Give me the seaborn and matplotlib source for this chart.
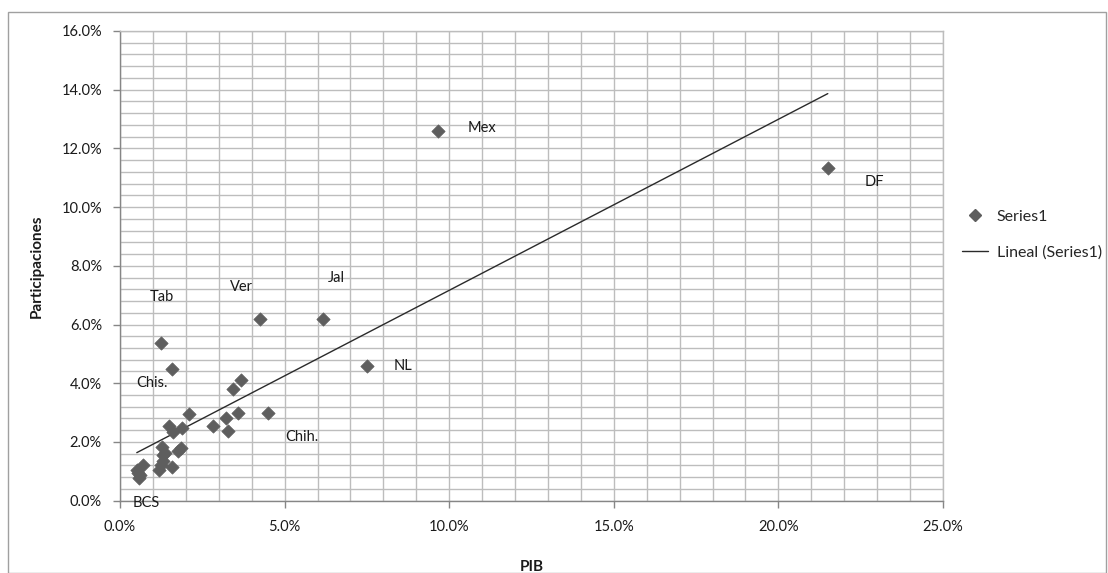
import numpy as np
import pandas as pd
import matplotlib
matplotlib.use("Agg")
import matplotlib.pyplot as plt
from matplotlib.ticker import MultipleLocator, FuncFormatter
from matplotlib.lines import Line2D
import seaborn as sns

# ---- data (percent) ----
pib = [9.67, 21.50, 6.18, 7.49, 4.25, 1.25, 1.59, 3.67, 3.42, 4.51, 3.59, 3.21,
       2.84, 3.27, 2.10, 1.50, 1.60, 1.87, 1.85, 1.77, 1.27, 1.32, 1.30, 1.19,
       1.57, 0.71, 0.51, 0.59, 0.62, 1.36, 1.24, 0.55]
participaciones = [12.60, 11.34, 6.19, 4.59, 6.19, 5.36, 4.48, 4.11, 3.80, 2.97,
                   2.97, 2.82, 2.55, 2.37, 2.94, 2.54, 2.33, 2.46, 1.78, 1.69,
                   1.84, 1.55, 1.35, 1.04, 1.13, 1.21, 1.04, 0.76, 0.88, 1.62,
                   1.22, 0.95]
label_text = ["Mex", "DF", "Jal", "NL", "Ver", "Tab", "Chis.", "Chih.", "BCS"]
label_x = [10.99, 22.93, 6.58, 8.61, 3.70, 1.27, 0.96, 5.52, 0.81]
label_y = [12.68, 10.85, 7.57, 4.58, 7.27, 6.95, 4.00, 2.18, -0.07]

x_ticks = [0, 5, 10, 15, 20, 25]
y_ticks = [0, 2, 4, 6, 8, 10, 12, 14, 16]

df = pd.DataFrame({"PIB": pib, "Participaciones": participaciones})

sns.set_theme(style="white")
plt.rcParams["font.family"] = ["Lato", "DejaVu Sans"]

W, H = 1108, 573
fig = plt.figure(figsize=(W / 100, H / 100), dpi=100)
ax = fig.add_axes([120 / W, 1 - 500.6 / H, (943 - 120) / W, (500.6 - 31) / H])

grid_c = "#bdbdbd"
sns.scatterplot(data=df, x="PIB", y="Participaciones", ax=ax, marker="D",
                s=46, color="#5e5e5e", edgecolor="#5e5e5e", linewidth=0.5,
                zorder=3, legend=False)
sns.regplot(data=df, x="PIB", y="Participaciones", ax=ax, scatter=False,
            ci=None, truncate=True, color="#2a2a2a",
            line_kws={"linewidth": 1.0, "zorder": 2})

ax.set_xlim(x_ticks[0], x_ticks[-1])
ax.set_ylim(y_ticks[0], y_ticks[-1])
ax.set_xticks(x_ticks)
ax.set_yticks(y_ticks)
ax.xaxis.set_minor_locator(MultipleLocator(1))
ax.yaxis.set_minor_locator(MultipleLocator(0.4))
fmt = FuncFormatter(lambda v, p: f"{v:.1f}%")
ax.xaxis.set_major_formatter(fmt)
ax.yaxis.set_major_formatter(fmt)

ax.grid(which="both", color=grid_c, linewidth=1.0, zorder=0)
ax.set_axisbelow(True)
for side in ["top", "right"]:
    ax.spines[side].set_color(grid_c)
    ax.spines[side].set_linewidth(1.0)
for side in ["left", "bottom"]:
    ax.spines[side].set_color("#868686")
    ax.spines[side].set_linewidth(1.0)

ax.tick_params(axis="both", which="major", length=5, width=1, color="#868686",
               labelsize=10.5, labelcolor="#1a1a1a", direction="out",
               bottom=True, left=True)
ax.tick_params(axis="both", which="minor", length=0)
ax.tick_params(axis="x", pad=9)
ax.tick_params(axis="y", pad=8)

ax.set_xlabel("PIB", fontsize=11, fontweight="bold", color="#1a1a1a", labelpad=19)
ax.set_ylabel("Participaciones", fontsize=11, fontweight="bold", color="#1a1a1a",
              labelpad=13)

for t, lx, ly in zip(label_text, label_x, label_y):
    ax.text(lx, ly, t, fontsize=10.5, color="#1a1a1a", ha="center", va="center",
            zorder=4, clip_on=False)

handles = [
    Line2D([], [], marker="D", linestyle="none", color="#5e5e5e", markersize=6),
    Line2D([], [], color="#2a2a2a", linewidth=1.0),
]
fig.legend(handles, ["Series1", "Lineal (Series1)"], loc="center left",
           bbox_to_anchor=(948 / W, 1 - 234.5 / H), frameon=False, fontsize=11.5,
           handlelength=1.6, handletextpad=0.55, labelspacing=1.35)

# outer chart border
fig.add_artist(plt.Rectangle((8 / W, 0.5 / H), (W - 10) / W, (H - 12.5) / H,
                             transform=fig.transFigure, fill=False,
                             edgecolor="#a0a0a0", linewidth=1.0))

fig.savefig("out.png", dpi=100)
